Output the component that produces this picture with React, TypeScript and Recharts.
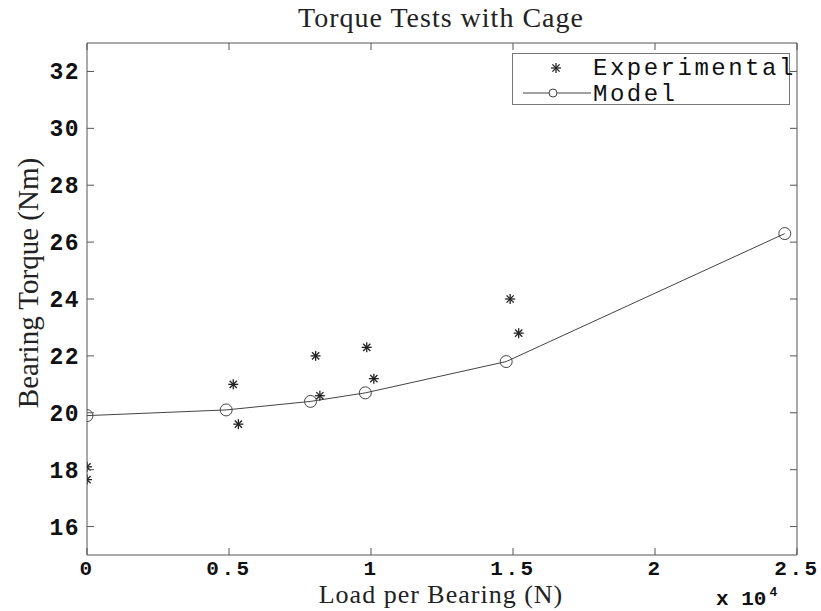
import { ScatterChart, Scatter, XAxis, YAxis } from 'recharts';

// load per bearing (x 10^4 N) and bearing torque (Nm)
const expLoad = [0, 0, 0.515, 0.533, 0.805, 0.82, 0.985, 1.01, 1.49, 1.52];
const expTorque = [18.1, 17.65, 21.0, 19.6, 22.0, 20.6, 22.3, 21.2, 24.0, 22.8];

const modelLoad = [0, 0.49, 0.787, 0.98, 1.476, 2.457];
const modelTorque = [19.9, 20.1, 20.4, 20.7, 21.8, 26.3];

const xTicks = [0, 0.5, 1, 1.5, 2, 2.5];
const yTicks = [16, 18, 20, 22, 24, 26, 28, 30, 32];

const experimental = expLoad.map((x, i) => ({ x, y: expTorque[i] }));
const model = modelLoad.map((x, i) => ({ x, y: modelTorque[i] }));

const AXIS = '#555';
const MONO = '"Liberation Mono", "DejaVu Sans Mono", monospace';
const SERIF = '"Liberation Serif", "DejaVu Serif", serif';

const Star = (props: any) => {
  const { cx, cy } = props;
  const r = 5;
  const d = r * 0.72;
  return (
    <g stroke="#222" strokeWidth={1.3}>
      <line x1={cx - r} y1={cy} x2={cx + r} y2={cy} />
      <line x1={cx} y1={cy - r} x2={cx} y2={cy + r} />
      <line x1={cx - d} y1={cy - d} x2={cx + d} y2={cy + d} />
      <line x1={cx - d} y1={cy + d} x2={cx + d} y2={cy - d} />
    </g>
  );
};

const Ring = (props: any) => {
  const { cx, cy } = props;
  return <circle cx={cx} cy={cy} r={6} fill="none" stroke="#444" strokeWidth={1} />;
};

const BottomTick = (props: any) => {
  const { x, y, payload } = props;
  return (
    <g>
      <line x1={x} y1={y} x2={x} y2={y - 7} stroke={AXIS} />
      <text x={x} y={y + 20} textAnchor="middle" fontFamily={MONO} fontWeight="bold" fontSize={21} letterSpacing={2.5} fill="#111">
        {payload.value}
      </text>
    </g>
  );
};

const TopTick = (props: any) => {
  const { x, y } = props;
  return <line x1={x} y1={y} x2={x} y2={y + 7} stroke={AXIS} />;
};

const LeftTick = (props: any) => {
  const { x, y, payload } = props;
  return (
    <g>
      <line x1={x} y1={y} x2={x + 7} y2={y} stroke={AXIS} />
      <text x={x - 7} y={y + 8} textAnchor="end" fontFamily={MONO} fontWeight="bold" fontSize={23} letterSpacing={1.5} fill="#111">
        {payload.value}
      </text>
    </g>
  );
};

const RightTick = (props: any) => {
  const { x, y } = props;
  return <line x1={x} y1={y} x2={x - 7} y2={y} stroke={AXIS} />;
};

export default function App() {
  return (
    <div style={{ position: 'absolute', left: 0, top: 0, width: 821, height: 611, background: '#fff', overflow: 'hidden' }}>
      <div style={{ position: 'absolute', left: 0, top: 0, width: 882, textAlign: 'center', fontFamily: SERIF, fontSize: 28, letterSpacing: 1, color: '#222', lineHeight: '34px', marginTop: 1 }}>
        Torque Tests with Cage
      </div>
      <div style={{ position: 'absolute', left: 0, top: 582, width: 882, textAlign: 'center', fontFamily: SERIF, fontSize: 26, letterSpacing: 1, color: '#222', lineHeight: '26px' }}>
        Load per Bearing (N)
      </div>
      <div style={{ position: 'absolute', left: 28, top: 283, width: 0, height: 0 }}>
        <div style={{ position: 'absolute', left: -200, top: -17, width: 400, textAlign: 'center', transform: 'rotate(-90deg)', fontFamily: SERIF, fontSize: 29, color: '#222', lineHeight: '34px' }}>
          Bearing Torque (Nm)
        </div>
      </div>
      <ScatterChart width={821} height={611} margin={{ top: 42, right: 23, bottom: 0, left: 0 }}>
        <XAxis xAxisId="b" type="number" dataKey="x" domain={[0, 2.5]} ticks={xTicks} height={56}
          stroke={AXIS} tickLine={false} tickSize={0} tickMargin={0} tick={<BottomTick />} allowDataOverflow />
        <XAxis xAxisId="t" orientation="top" type="number" dataKey="x" domain={[0, 2.5]} ticks={xTicks} height={1}
          stroke={AXIS} tickLine={false} tickSize={0} tickMargin={0} tick={<TopTick />} allowDataOverflow />
        <YAxis yAxisId="l" type="number" dataKey="y" domain={[15, 33]} ticks={yTicks} width={87}
          stroke={AXIS} tickLine={false} tickSize={0} tickMargin={0} tick={<LeftTick />} allowDataOverflow />
        <YAxis yAxisId="r" orientation="right" type="number" dataKey="y" domain={[15, 33]} ticks={yTicks} width={1}
          stroke={AXIS} tickLine={false} tickSize={0} tickMargin={0} tick={<RightTick />} allowDataOverflow />
        <Scatter xAxisId="t" yAxisId="r" data={model} shape={() => <g />} isAnimationActive={false} />
        <Scatter xAxisId="b" yAxisId="l" name="Model" data={model} line={{ stroke: '#444', strokeWidth: 1 }} shape={<Ring />} isAnimationActive={false} />
        <Scatter xAxisId="b" yAxisId="l" name="Experimental" data={experimental} shape={<Star />} isAnimationActive={false} />
      </ScatterChart>
      <div style={{ position: 'absolute', left: 512, top: 53, width: 276, height: 50, border: '1px solid #777', background: '#fff' }} />
      <svg style={{ position: 'absolute', left: 0, top: 0, pointerEvents: 'none' }} width={821} height={611}>
        <Star cx={556} cy={68} />
        <line x1={523} y1={93} x2={591} y2={93} stroke="#444" strokeWidth={1} />
        <circle cx={553} cy={93} r={4} fill="#fff" stroke="#444" strokeWidth={1} />
        <text x={593} y={75} fontFamily={MONO} fontSize={24} letterSpacing={2.5} fill="#111">Experimental</text>
        <text x={593} y={101} fontFamily={MONO} fontSize={24} letterSpacing={2.5} fill="#111">Model</text>
        <text x={716} y={605} fontFamily={MONO} fontWeight="bold" fontSize={21} fill="#111">
          x 10<tspan fontSize={13} dx={3} dy={-9}>4</tspan>
        </text>
      </svg>
    </div>
  );
}
